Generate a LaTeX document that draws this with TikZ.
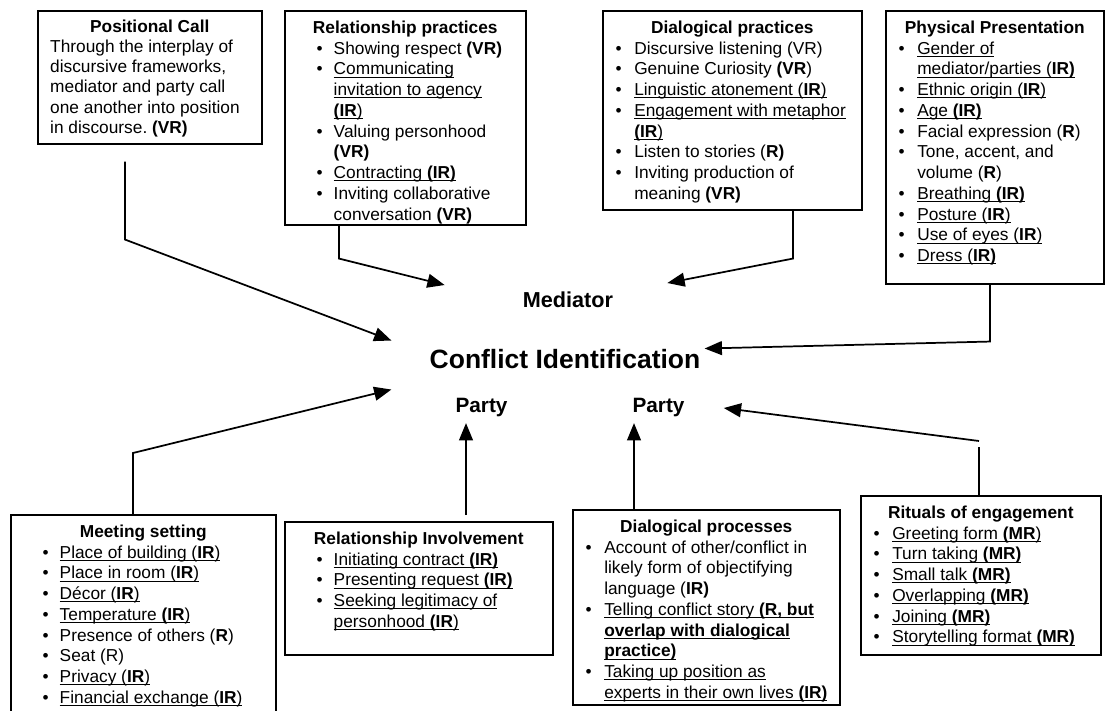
\documentclass[tikz,border=0pt]{standalone}
\usepackage{fontspec}
\setmainfont{Liberation Sans}
\usetikzlibrary{calc,arrows.meta}
\frenchspacing

\newlength\pxu
\setlength\pxu{0.578pt}
\newlength\bulin
\newlength\txtin
\newsavebox\ulbox

\newcommand{\uln}[1]{\sbox\ulbox{#1}\rlap{\rule[-1.6pt]{\wd\ulbox}{0.6pt}}\usebox\ulbox}
\newcommand{\cardbody}[4]{\parbox[t][\dimexpr#2\pxu-9.2pt\relax][t]{\dimexpr#1\pxu-14.4pt\relax}{{\centering\bfseries\strut#3\par}\raggedright\rightskip=-4pt plus 1fil\relax #4}}
\newcommand{\bitem}{\par\hangindent=\txtin\hangafter=1\noindent\hbox to\txtin{\hskip\bulin\textbullet\hfil}}

\tikzset{
	cardbox/.style={draw, line width=0.9pt, anchor=north west, inner xsep=7.2pt, inner ysep=4.6pt, font=\fontsize{10pt}{12pt}\selectfont},
	widelist/.style={cardbox, execute at begin node={\setlength\bulin{11.2pt}\setlength\txtin{21.1pt}}},
	narrowlist/.style={cardbox, execute at begin node={\setlength\bulin{0.2pt}\setlength\txtin{11pt}}},
	tag/.style={anchor=base, inner sep=2pt, font=\bfseries\fontsize{12pt}{14pt}\selectfont},
	link/.style={line width=1pt},
	arr/.style={link, -{Triangle[length=10pt,width=8pt]}}
}

\begin{document}
\begin{tikzpicture}[x=0.578pt, y=-0.578pt]
	\clip (0,0) rectangle (1108,711);

	\node[cardbox, font=\fontsize{10pt}{11.6pt}\selectfont] (pos) at (37,10) {\cardbody{224}{133}{Positional Call}{Through the interplay of\newline discursive frameworks,\newline mediator and party call\newline one another into position\newline in discourse. \textbf{(VR)}}};
	\node[widelist] (relprac) at (284,10) {\cardbody{241}{214}{Relationship practices}{
		\bitem Showing respect \textbf{(VR)}
		\bitem \uln{Communicating}\newline\uln{invitation to agency}\newline\uln{\textbf{(IR})}
		\bitem Valuing personhood\newline\textbf{(VR)}
		\bitem \uln{Contracting \textbf{(IR)}}
		\bitem Inviting collaborative\newline conversation \textbf{(VR)}}};
	\node[narrowlist] (dialprac) at (602,10) {\cardbody{259}{199}{Dialogical practices}{
		\bitem Discursive listening (VR)
		\bitem Genuine Curiosity \textbf{(VR})
		\bitem \uln{Linguistic atonement (\textbf{IR})}
		\bitem \uln{Engagement with metaphor}\newline\uln{\textbf{(IR})}
		\bitem Listen to stories (\textbf{R)}
		\bitem Inviting production of\newline meaning \textbf{(VR)}}};
	\node[narrowlist] (phys) at (885,10) {\cardbody{218}{273}{Physical Presentation}{
		\bitem \uln{Gender of}\newline\uln{mediator/parties (\textbf{IR)}}
		\bitem \uln{Ethnic origin (\textbf{IR})}
		\bitem \uln{Age \textbf{(IR)}}
		\bitem Facial expression (\textbf{R})
		\bitem Tone, accent, and\newline volume (\textbf{R})
		\bitem \uln{Breathing \textbf{(IR)}}
		\bitem \uln{Posture (\textbf{IR})}
		\bitem \uln{Use of eyes (\textbf{IR})}
		\bitem \uln{Dress (\textbf{IR)}}}};

	\node[tag, font=\bfseries\fontsize{12.5pt}{15pt}\selectfont] (med) at (568,308) {Mediator};
	\node[tag, font=\bfseries\fontsize{15.3pt}{18pt}\selectfont] (conf) at (565,369) {Conflict Identification};
	\node[tag] (party1) at (481.5,413) {Party};
	\node[tag] (party2) at (658.5,413) {Party};

	\node[widelist] (meet) at (10,514) {\cardbody{265}{240}{Meeting setting}{
		\bitem \uln{Place of building (\textbf{IR})}
		\bitem \uln{Place in room (\textbf{IR})}
		\bitem \uln{Décor (\textbf{IR})}
		\bitem \uln{Temperature \textbf{(IR})}
		\bitem Presence of others (\textbf{R})
		\bitem Seat (R)
		\bitem \uln{Privacy (\textbf{IR})}
		\bitem \uln{Financial exchange (\textbf{IR})}}};
	\node[widelist] (relinv) at (284,521) {\cardbody{268}{133}{Relationship Involvement}{
		\bitem \uln{Initiating contract \textbf{(IR)}}
		\bitem \uln{Presenting request \textbf{(IR)}}
		\bitem \uln{Seeking legitimacy of}\newline\uln{personhood \textbf{(IR})}}};
	\node[narrowlist] (dialproc) at (572,509) {\cardbody{267}{195}{Dialogical processes}{
		\bitem Account of other/conflict in\newline likely form of objectifying\newline language (\textbf{IR)}
		\bitem \uln{Telling conflict story \textbf{(R, but}}\newline\uln{\textbf{overlap with dialogical}}\newline\uln{\textbf{practice)}}
		\bitem \uln{Taking up position as}\newline\uln{experts in their own lives \textbf{(IR)}}}};
	\node[narrowlist] (rit) at (860,495) {\cardbody{240}{159}{Rituals of engagement}{
		\bitem \uln{Greeting form \textbf{(MR})}
		\bitem \uln{Turn taking \textbf{(MR)}}
		\bitem \uln{Small talk \textbf{(MR)}}
		\bitem \uln{Overlapping \textbf{(MR)}}
		\bitem \uln{Joining \textbf{(MR)}}
		\bitem \uln{Storytelling format \textbf{(MR)}}}};

	\draw[arr] ($(pos.south west)+(88,17)$) -- ++(0,78) -- ($(conf.west)+(-34.5,-19)$);
	\draw[arr] ($(relprac.south west)+(55,0)$) -- ++(0,33) -- ($(med.north west)+(-74.5,-3.5)$);
	\draw[arr] ($(dialprac.south west)+(191,0)$) -- ++(0,48) -- ($(med.north east)+(50.5,-5.5)$);
	\draw[arr] ($(phys.south west)+(105,0)$) -- ++(0,57) -- ($(conf.east)+(0.5,-11)$);
	\draw[arr] ($(meet.north west)+(123,0)$) -- ++(0,-61) -- ($(conf.west)+(-34.5,30)$);
	\draw[arr] ($(relinv.north west)+(182,-6)$) -- ($(party1.south)+(-15.5,2)$);
	\draw[arr] ($(dialproc.north west)+(62,0)$) -- ($(party2.south)+(-24.5,2)$);
	\draw[link] ($(rit.north west)+(119,0)$) -- ++(0,-48);
	\draw[arr] ($(rit.north west)+(119,-54)$) -- ($(party2.east)+(35.5,0)$);
\end{tikzpicture}
\end{document}
